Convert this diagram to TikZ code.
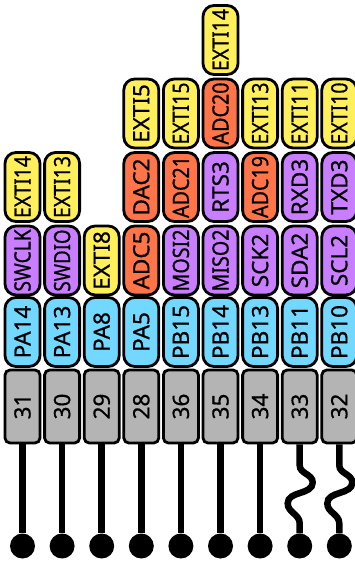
\documentclass[tikz,border=0pt]{standalone}
\usepackage{fontspec}
\setmainfont{Noto Sans}[FakeBold=0.7]
\usepackage{graphicx}
\usetikzlibrary{positioning}

\definecolor{padgrey}{HTML}{B4B4B4}
\definecolor{portblue}{HTML}{72D8FF}
\definecolor{extiyellow}{HTML}{FFEF5A}
\definecolor{altpurple}{HTML}{C97EFF}
\definecolor{anaorange}{HTML}{FF7448}

% squeeze long labels into the pad (lengthwise only)
\newsavebox\lblbox
\newcommand{\fitlbl}[1]{\sbox\lblbox{#1}%
  \ifdim\wd\lblbox>62pt\resizebox{62pt}{\height}{\usebox\lblbox}\else\usebox\lblbox\fi}

\tikzset{
  pad/.style = {
    draw,
    line width=2.8pt,
    rounded corners=11pt,
    rotate=90,
    minimum width=69pt,
    minimum height=35pt,
    inner sep=0pt,
    font=\fontsize{22.5}{22.5}\selectfont
  },
  pinbox/.style = {pad, fill=padgrey, rounded corners=5pt, minimum width=73pt},
  portbox/.style = {pad, fill=portblue},
  extibox/.style = {pad, fill=extiyellow},
  altbox/.style = {pad, fill=altpurple},
  anabox/.style = {pad, fill=anaorange},
  padend/.style = {circle, fill=black, minimum size=25pt, inner sep=0pt},
  wire/.style = {line width=6.5pt}
}

\begin{document}
\begin{tikzpicture}[x=1pt, y=1pt]

    \useasboundingbox (0,0) rectangle (355,-561);

    % Pin numbers, ports and solder ends
    \foreach \i/\pin/\port in {
        1/31/PA14,
        2/30/PA13,
        3/29/PA8,
        4/28/PA5,
        5/36/PB15,
        6/35/PB14,
        7/34/PB13,
        8/33/PB11,
        9/32/PB10} {
        \pgfmathsetmacro{\cx}{22.5+39.6*(\i-1)}
        \node[pinbox] (pin\i) at (\cx,-406.5) {\fitlbl{\pin}};
        \node[portbox] (port\i) at (\cx,-332) {\fitlbl{\port}};
        \node[padend] (end\i) at (\cx,-546) {};
    }

    % Alternate functions stacked above each port
    \foreach \i/\row/\txt/\kind in {
        1/2/SWCLK/altbox, 1/3/EXTI14/extibox,
        2/2/SWDIO/altbox, 2/3/EXTI13/extibox,
        3/2/EXTI8/extibox,
        4/2/ADC5/anabox,  4/3/DAC2/anabox,   4/4/EXTI5/extibox,
        5/2/MOSI2/altbox, 5/3/ADC21/anabox,  5/4/EXTI15/extibox,
        6/2/MISO2/altbox, 6/3/RTS3/altbox,   6/4/ADC20/anabox, 6/5/EXTI14/extibox,
        7/2/SCK2/altbox,  7/3/ADC19/anabox,  7/4/EXTI13/extibox,
        8/2/SDA2/altbox,  8/3/RXD3/altbox,   8/4/EXTI11/extibox,
        9/2/SCL2/altbox,  9/3/TXD3/altbox,   9/4/EXTI10/extibox} {
        \pgfmathsetmacro{\cx}{22.5+39.6*(\i-1)}
        \pgfmathsetmacro{\cy}{-260.5+73.5*(\row-2)}
        \node[\kind] (fn\i\row) at (\cx,\cy) {\fitlbl{\txt}};
    }

    % Straight legs
    \foreach \i in {1,...,7} {
        \draw[wire] (pin\i.west) -- (end\i.north);
    }

    % Bent legs
    \foreach \i in {8,9} {
        \draw[wire] (pin\i.west) -- ++(0,-21)
            to[out=-90, in=90] ++(13,-17)
            to[out=-90, in=90] ++(-25,-21)
            to[out=-90, in=90] ++(12,-20)
            -- (end\i.north);
    }

\end{tikzpicture}
\end{document}
